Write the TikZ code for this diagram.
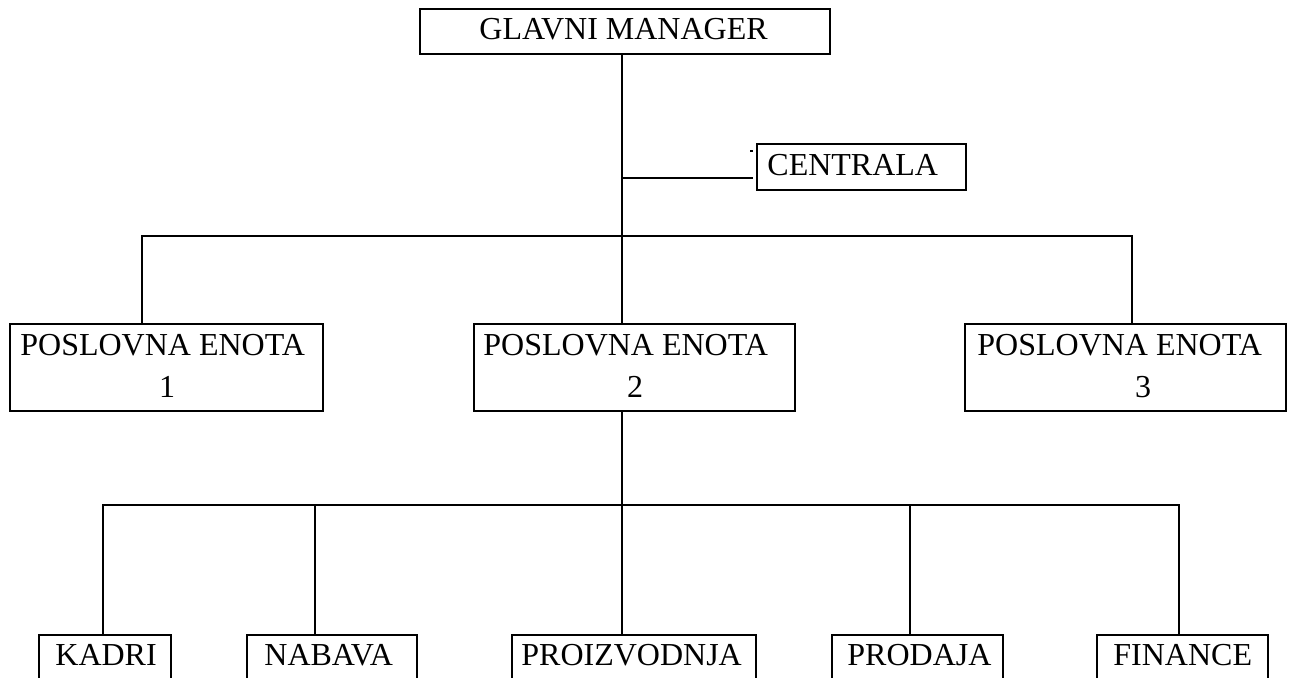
\documentclass[tikz,border=0pt]{standalone}
\usepackage{fontspec}
\setmainfont{Liberation Serif}
\begin{document}
\begin{tikzpicture}[x=0.5pt,y=-0.5pt,
  box/.style={draw,line width=1.2pt,rectangle,inner sep=0pt},
  lbl/.style={anchor=base west,inner sep=0pt,font=\fontsize{16}{19}\selectfont},
  num/.style={anchor=base,inner sep=0pt,font=\fontsize{16}{19}\selectfont},
  link/.style={line width=1pt}]
\path[use as bounding box] (0,0) rectangle (1289,677);
\clip (0,0) rectangle (1289,677);

% boxes (centres and sizes in pixel units)
\node[box,minimum width=410*0.5pt,minimum height=45*0.5pt] (gm) at (625,31.5) {};
\node[box,minimum width=209*0.5pt,minimum height=46*0.5pt] (cen) at (861.5,167) {};
\node[box,minimum width=313*0.5pt,minimum height=87*0.5pt] (pe1) at (166.5,367.5) {};
\node[box,minimum width=321*0.5pt,minimum height=87*0.5pt] (pe2) at (634.5,367.5) {};
\node[box,minimum width=321*0.5pt,minimum height=87*0.5pt] (pe3) at (1125.5,367.5) {};
\node[box,minimum width=132*0.5pt,minimum height=70*0.5pt] (kad) at (105,670) {};
\node[box,minimum width=170*0.5pt,minimum height=70*0.5pt] (nab) at (332,670) {};
\node[box,minimum width=244*0.5pt,minimum height=70*0.5pt] (pro) at (634,670) {};
\node[box,minimum width=171*0.5pt,minimum height=70*0.5pt] (prd) at (917.5,670) {};
\node[box,minimum width=171*0.5pt,minimum height=70*0.5pt] (fin) at (1182.5,670) {};

% texts
\node[lbl] (gmt) at (479,39) {GLAVNI MANAGER};
\node[lbl] (cent) at (767,175) {CENTRALA};
\node[lbl] (pe1t) at (20,355) {POSLOVNA ENOTA};
\node[num] (pe1n) at (167,397) {1};
\node[lbl] (pe2t) at (483,355) {POSLOVNA ENOTA};
\node[num] (pe2n) at (635,397) {2};
\node[lbl] (pe3t) at (977,355) {POSLOVNA ENOTA};
\node[num] (pe3n) at (1143,397) {3};
\node[lbl] (kadt) at (55,665) {KADRI};
\node[lbl] (nabt) at (264,665) {NABAVA};
\node[lbl] (prot) at (521,665) {PROIZVODNJA};
\node[lbl] (prdt) at (847,665) {PRODAJA};
\node[lbl] (fint) at (1113,665) {FINANCE};

% junction points of the connectors
\coordinate (trunk) at (622,0);
\coordinate (cenin) at (753,178);
\coordinate (busA) at (0,236);
\coordinate (busB) at (0,505);
\coordinate (c1) at (142,0);
\coordinate (c3) at (1132,0);
\coordinate (k1) at (103,0);
\coordinate (k2) at (315,0);
\coordinate (k4) at (910,0);
\coordinate (k5) at (1179,0);

% top level
\draw[link] (trunk |- gm.south) -- (trunk |- pe2.north);
\draw[link] (trunk |- cenin) -- (cenin);
\draw[line width=0.6pt] (750,151) -- (753,151);
\draw[link] (c1 |- pe1.north) -- (c1 |- busA) -- (c3 |- busA) -- (c3 |- pe3.north);

% second level
\draw[link] (trunk |- pe2.south) -- (trunk |- pro.north);
\draw[link] (k1 |- kad.north) -- (k1 |- busB) -- (k5 |- busB) -- (k5 |- fin.north);
\draw[link] (k2 |- busB) -- (k2 |- nab.north);
\draw[link] (k4 |- busB) -- (k4 |- prd.north);
\end{tikzpicture}
\end{document}
